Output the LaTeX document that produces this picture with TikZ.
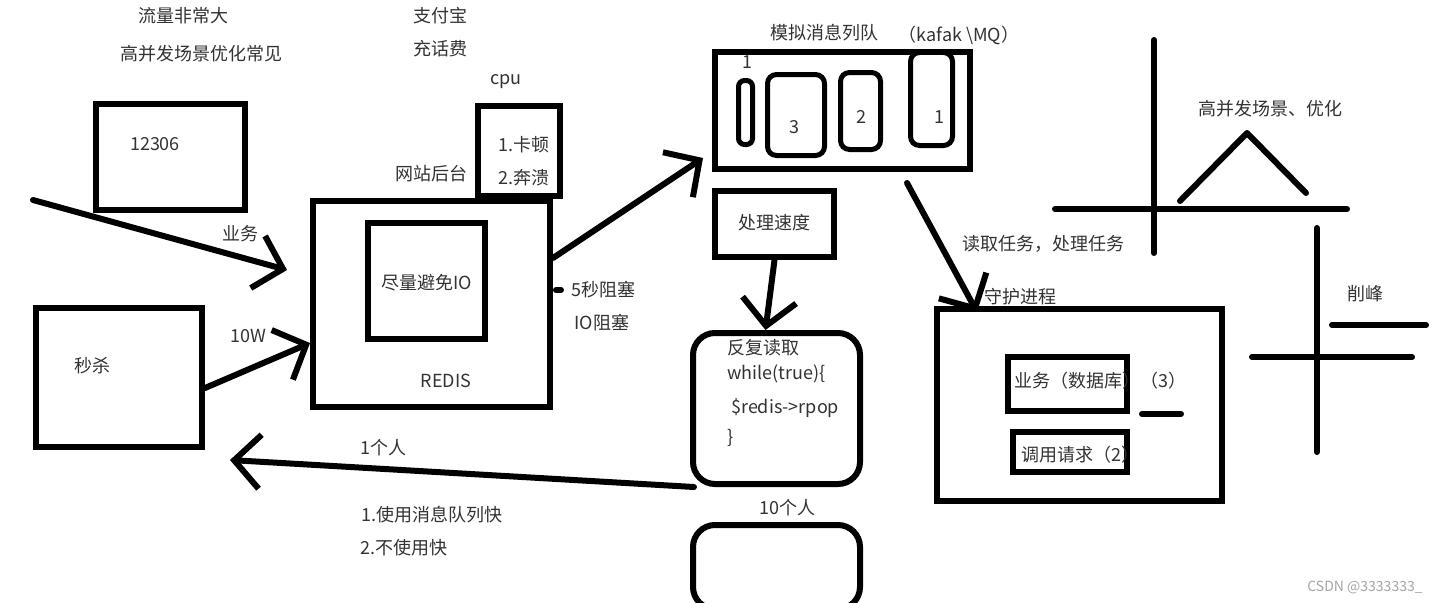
\documentclass[tikz,border=0pt]{standalone}
\usepackage{fontspec}
\setmainfont{Noto Sans CJK SC}
\usetikzlibrary{arrows.meta, positioning, calc}
\definecolor{inkgray}{HTML}{333333}

\begin{document}
\begin{tikzpicture}[
  x=1pt, y=-1pt,
  >={Straight Barb[length=26pt, width=54pt]},
  every node/.style={font=\fontsize{18}{22}\selectfont, text=inkgray},
  note/.style={inner sep=0pt},
  box/.style={draw=black, line width=6pt, inner sep=0pt},
  slot/.style={box, line width=5pt, rounded corners=9pt},
  roundbox/.style={box, rounded corners=22pt},
  conn/.style={line width=6pt, line cap=round},
  stroke/.style={line width=6pt, line cap=round, line join=round}
]
\path[fill=white, use as bounding box] (0,0) rectangle (1434,602);

% headings
\node[note] (flow) at (183,16) {流量非常大};
\node[note] (common) at (201,54) {高并发场景优化常见};
\node[note] (alipay) at (440,16) {支付宝};
\node[note] (topup) at (440,49) {充话费};

% traffic sources
\node[box, minimum width=149pt, minimum height=106pt] (ticket) at (170.5,157) {};
\node[note] (ticketlabel) at (155,144) {12306};
\node[box, minimum width=166pt, minimum height=139pt] (seckill) at (119,377.5) {};
\node[note] (seckilllabel) at (92,366) {秒杀};

% redis back end
\node[box, minimum width=237pt, minimum height=206pt] (redis) at (431.5,304) {};
\node[box, minimum width=117pt, minimum height=116pt] (avoidio) at (426.5,281) {};
\node[note] (avoidiolabel) at (427,283) {尽量避免IO};
\node[note] (redislabel) at (446,381) {REDIS};
\node[box, minimum width=82pt, minimum height=90pt] (cpu) at (519,151) {};
\node[note] (cpulabel) at (506,82) {cpu};
\node[note] (lag) at (524,145) {1.卡顿};
\node[note] (crash) at (524,178) {2.奔溃};
\node[note] (backend) at (431,174) {网站后台};
\node[note] (block) at (603,290) {5秒阻塞};
\node[note] (ioblock) at (602,323) {IO阻塞};
\draw[stroke] (556,290) -- (561,290);

% message queue
\node[box, minimum width=255pt, minimum height=117pt] (mq) at (842.5,110.5) {};
\node[note] (mqtitle) at (824,33) {模拟消息列队};
\node[note] (mqkind) at (959,35) {（kafak \textbackslash MQ）};
\node[slot, rounded corners=6pt, minimum width=14pt, minimum height=64pt] (slotd) at (745.5,112.5) {};
\node[slot, minimum width=57pt, minimum height=81pt] (slotc) at (796,115) {};
\node[slot, minimum width=40pt, minimum height=77pt] (slotb) at (860.5,111) {};
\node[slot, minimum width=42pt, minimum height=93pt] (slota) at (931.5,99) {};
\node[note] (slotdlabel) at (747,62) {1};
\node[note] (slotclabel) at (794,127) {3};
\node[note] (slotblabel) at (861,117) {2};
\node[note] (slotalabel) at (939,117) {1};

% consumer
\node[box, minimum width=119pt, minimum height=66pt] (speed) at (774.5,224) {};
\node[note] (speedlabel) at (774,223) {处理速度};
\node[roundbox, minimum width=167pt, minimum height=151pt] (reader) at (776.5,408.5) {};
\node[note, anchor=west] (readtitle) at (727,348) {反复读取};
\node[note, anchor=west] (readloop) at (727,374) {while(true)\{};
\node[note, anchor=west] (readpop) at (731,408) {\$redis->rpop};
\node[note, anchor=west] (readend) at (727,438) {\}};
\node[note] (tenpeople) at (787,508) {10个人};
\node[roundbox, minimum width=167pt, minimum height=84pt] (pool) at (776.5,567) {};

% daemon
\node[box, minimum width=285pt, minimum height=192pt] (daemon) at (1079.5,405) {};
\node[note] (daemonlabel) at (1020,297) {守护进程};
\node[box, minimum width=119pt, minimum height=54pt] (dbjob) at (1067.5,384) {};
\node[note] (dbjoblabel) at (1100,381) {业务（数据库）（3）};
\node[box, minimum width=114pt, minimum height=40pt] (calljob) at (1070,452) {};
\node[note] (calljoblabel) at (1080,455) {调用请求（2）};
\draw[stroke] (1142,414) -- (1181,414);
\node[note] (readtask) at (1043,244) {读取任务，处理任务};

% connectors
\coordinate (inflow) at (33,200);
\coordinate (inflowtip) at (287,270);
\draw[conn, ->] (inflow) -- (inflowtip);
\node[note] (bizlabel) at (240,234) {业务};
\draw[conn, ->] ([yshift=-10.5pt]seckill.east) -- ([yshift=-39pt]redis.west);
\node[note] (tenw) at (248,336) {10W};
\coordinate (mqtip) at (703,158);
\draw[conn, ->] ([yshift=46pt]redis.east) -- (mqtip);
\draw[conn, ->] (speed.south) -- ([xshift=-11pt]reader.north);
\coordinate (backtip) at (230,460);
\draw[conn, ->] ([xshift=4pt]reader.south west) -- (backtip);
\node[note] (onepeople) at (383,448) {1个人};
\node[note] (fastmq) at (432,515) {1.使用消息队列快};
\node[note] (fastnomq) at (404,548) {2.不使用快};
\coordinate (mqout) at (907,183);
\draw[conn, ->] (mqout) -- ([shift={(43pt,-6pt)}]daemon.north west);

% peak shaving sketch
\draw[stroke] (1154,40) -- (1154,253);
\draw[stroke] (1055,209) -- (1347,209);
\draw[stroke] (1180,201) -- (1247,133) -- (1306,193);
\node[note] (peaklabel) at (1270,109) {高并发场景、优化};
\draw[stroke] (1317,228) -- (1317,452);
\draw[stroke] (1332,325) -- (1426,325);
\draw[stroke] (1252,357) -- (1412,357);
\node[note] (shavelabel) at (1365,294) {削峰};

\node[note, text=gray!70, font=\fontsize{14}{16}\selectfont] (mark) at (1365,587) {CSDN @3333333\_};
\end{tikzpicture}
\end{document}
